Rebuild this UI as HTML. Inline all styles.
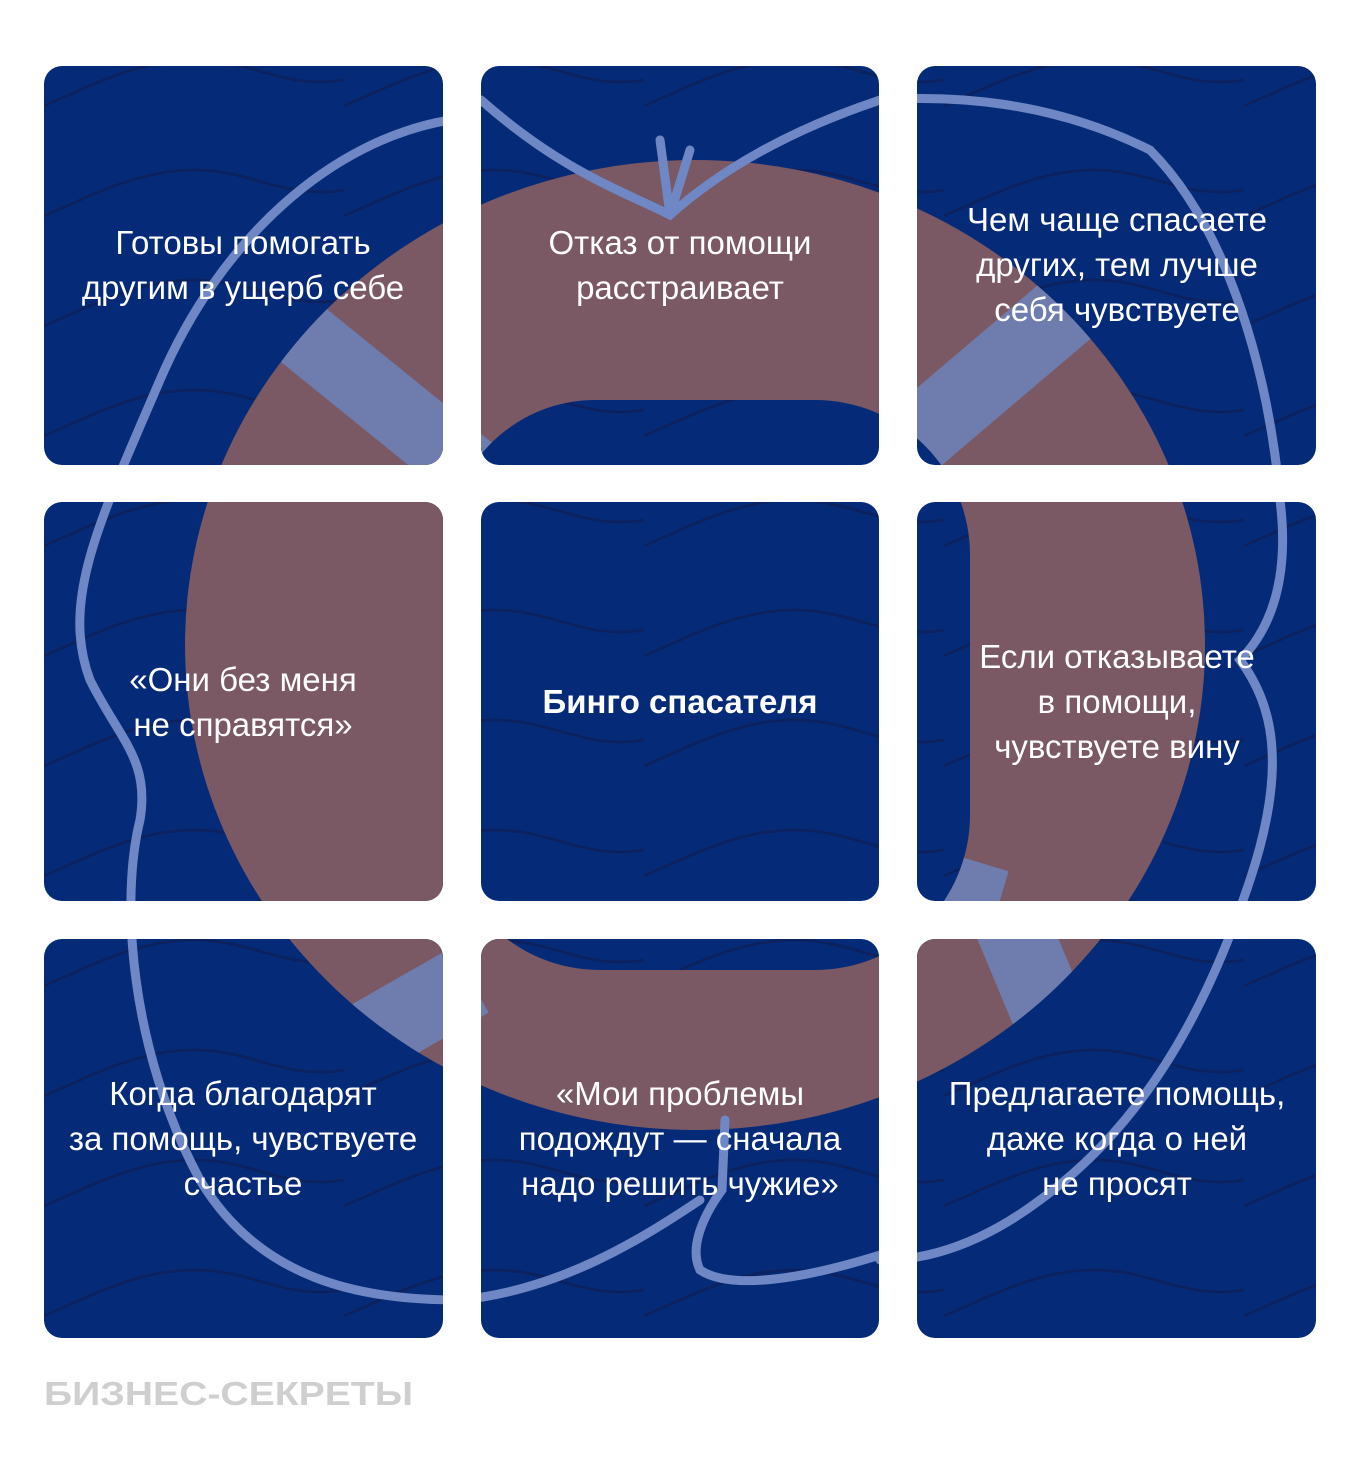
<!DOCTYPE html>
<html><head><meta charset="utf-8"><style>
html,body{margin:0;padding:0;background:#fff;}
svg{display:block;}
text{font-family:"Liberation Sans Narrow","Liberation Sans",sans-serif;fill:#fff;font-size:33px;text-anchor:middle;}
</style></head><body>
<svg width="1360" height="1471" viewBox="0 0 1360 1471" xmlns="http://www.w3.org/2000/svg">
<defs>
<clipPath id="tiles">
<rect x="44" y="66" width="399" height="399" rx="18"/>
<rect x="481" y="66" width="398" height="399" rx="18"/>
<rect x="917" y="66" width="399" height="399" rx="18"/>
<rect x="44" y="502" width="399" height="399" rx="18"/>
<rect x="481" y="502" width="398" height="399" rx="18"/>
<rect x="917" y="502" width="399" height="399" rx="18"/>
<rect x="44" y="939" width="399" height="399" rx="18"/>
<rect x="481" y="939" width="398" height="399" rx="18"/>
<rect x="917" y="939" width="399" height="399" rx="18"/>
</clipPath>
<clipPath id="ring">
<path clip-rule="evenodd" d="M185,645 a510,485 0 1,0 1020,0 a510,485 0 1,0 -1020,0 Z M595,400 L815,400 A155,155 0 0 1 970,555 L970,815 A155,155 0 0 1 815,970 L600,970 A155,155 0 0 1 445,815 L445,555 A150,155 0 0 1 595,400 Z"/>
</clipPath>
<pattern id="waves" width="300" height="110" patternUnits="userSpaceOnUse" x="44" y="20">
<path d="M-10,90 C40,70 90,40 150,40 C210,40 240,70 300,60 C330,55 340,45 360,40" stroke="#0c2260" stroke-width="3" fill="none"/>
</pattern>
</defs>
<g clip-path="url(#tiles)">
<rect width="1360" height="1471" fill="#052b78"/>
<rect width="1360" height="1471" fill="url(#waves)"/>
<g clip-path="url(#ring)">
<rect width="1360" height="1471" fill="#7a5864"/>
<path d="M260,300 L470,470" stroke="#6d82b6" stroke-width="70" opacity="0.9"/>
<path d="M1090,290 L890,460" stroke="#6d82b6" stroke-width="75" opacity="0.9"/>
<path d="M1000,900 L900,870" stroke="#6d82b6" stroke-width="60" opacity="0.9"/>
<path d="M470,980 L330,1060" stroke="#6d82b6" stroke-width="75" opacity="0.9"/>
<path d="M1010,920 L1060,1040" stroke="#6d82b6" stroke-width="75" opacity="0.9"/>
</g>
<g stroke="#6f87c4" stroke-width="9" fill="none" stroke-linecap="round">
<path d="M450,120 C330,140 220,240 160,380 C100,520 60,600 90,680 C120,740 150,760 140,820 C120,900 130,1050 200,1180 C260,1280 360,1300 460,1300 C560,1290 640,1240 700,1200"/>
<path d="M481,100 C560,170 620,190 670,215 C720,170 790,130 880,100 C950,95 1050,100 1150,150 C1230,230 1270,380 1280,500 C1290,580 1270,630 1240,660 C1270,700 1290,760 1250,880 C1210,1000 1150,1120 1040,1200 C960,1260 900,1260 880,1260"/>
<path d="M670,215 L660,140 M670,215 L690,150"/>
<path d="M725,1120 L722,1190 C700,1220 690,1250 700,1270 C730,1290 800,1280 880,1255"/>
</g>
</g>
<text x="243" y="254">Готовы помогать</text>
<text x="243" y="299">другим в ущерб себе</text>
<text x="680" y="254">Отказ от помощи</text>
<text x="680" y="299">расстраивает</text>
<text x="1117" y="231">Чем чаще спасаете</text>
<text x="1117" y="276">других, тем лучше</text>
<text x="1117" y="321">себя чувствуете</text>
<text x="243" y="691">«Они без меня</text>
<text x="243" y="736">не справятся»</text>
<text x="680" y="713" font-weight="bold">Бинго спасателя</text>
<text x="1117" y="668">Если отказываете</text>
<text x="1117" y="713">в помощи,</text>
<text x="1117" y="758">чувствуете вину</text>
<text x="243" y="1105">Когда благодарят</text>
<text x="243" y="1150">за помощь, чувствуете</text>
<text x="243" y="1195">счастье</text>
<text x="680" y="1105">«Мои проблемы</text>
<text x="680" y="1150">подождут — сначала</text>
<text x="680" y="1195">надо решить чужие»</text>
<text x="1117" y="1105">Предлагаете помощь,</text>
<text x="1117" y="1150">даже когда о ней</text>
<text x="1117" y="1195">не просят</text>
<text x="44" y="1405" style="font-family:'Liberation Sans',sans-serif;font-weight:bold;font-size:33px;fill:#cfcfcf;text-anchor:start" textLength="369" lengthAdjust="spacingAndGlyphs">БИЗНЕС-СЕКРЕТЫ</text>
</svg>
</body></html>
